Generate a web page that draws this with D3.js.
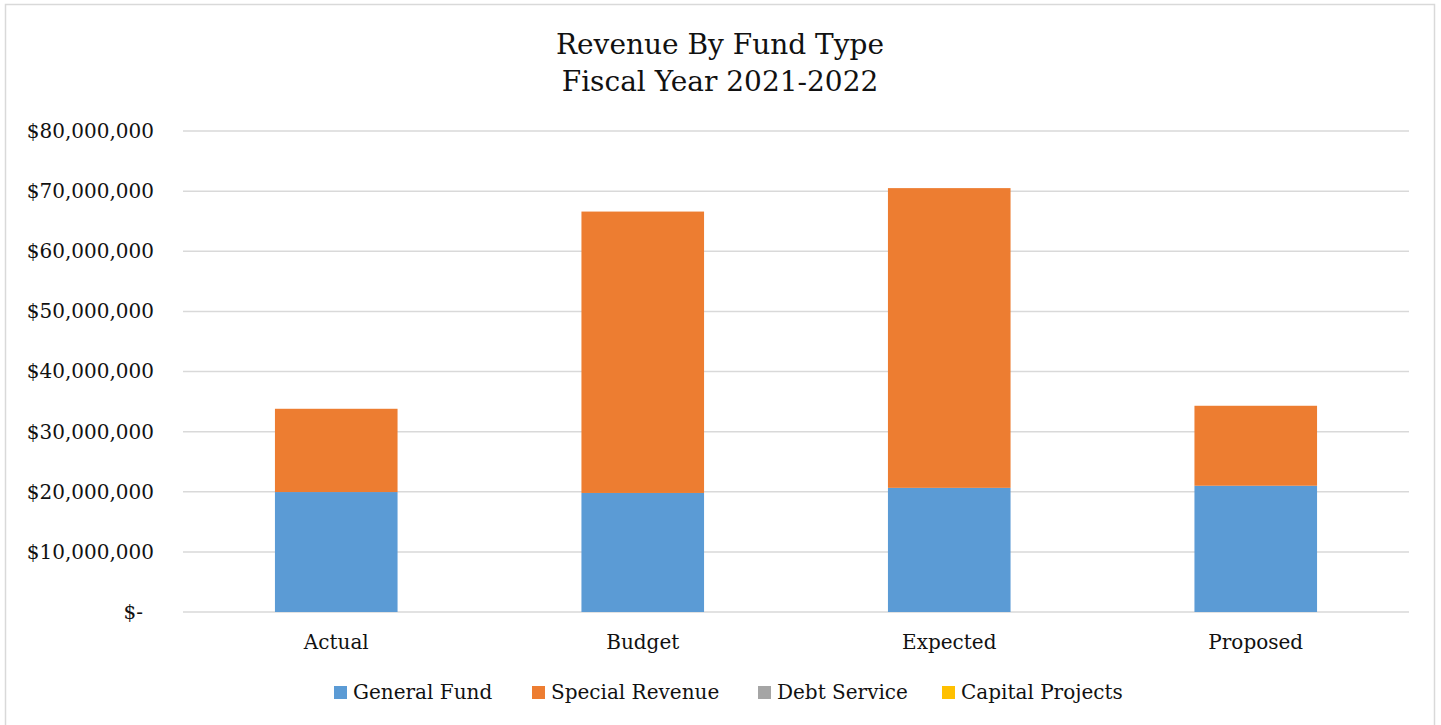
<!DOCTYPE html>
<html><head><meta charset="utf-8">
<script src="https://cdn.jsdelivr.net/npm/d3@7"></script>
<style>body{margin:0;background:#fff}svg{display:block}text{font-family:"DejaVu Serif",serif;fill:#111}</style>
</head><body><svg id="c" width="1441" height="725"></svg>
<script>
const categories = ["Actual","Budget","Expected","Proposed"];
const seriesNames = ["General Fund","Special Revenue","Debt Service","Capital Projects"];
const generalFund = [19950000, 19800000, 20650000, 21000000];
const specialRevenue = [13850000, 46800000, 49850000, 13300000];
const debtService = [0, 0, 0, 0];
const capitalProjects = [0, 0, 0, 0];
const tickValues = [0,10000000,20000000,30000000,40000000,50000000,60000000,70000000,80000000];
const colors = ["#5B9BD5","#ED7D31","#A5A5A5","#FFC000"];

const svg = d3.select("#c");
svg.append("rect").attr("x",5.5).attr("y",4.5).attr("width",1429).attr("height",730)
  .attr("fill","#fff").attr("stroke","#d9d9d9").attr("stroke-width",1.5);

const rows = categories.map((c,i)=>({cat:c,"General Fund":generalFund[i],"Special Revenue":specialRevenue[i],"Debt Service":debtService[i],"Capital Projects":capitalProjects[i]}));
const stack = d3.stack().keys(seriesNames)(rows);

const x = d3.scaleBand().domain(categories).range([183,1409]).padding(0);
const y = d3.scaleLinear().domain([0,80000000]).range([612,131]);
const barW = x.bandwidth()*0.4;

// gridlines
svg.append("g").selectAll("line").data(tickValues).join("line")
  .attr("x1",183).attr("x2",1409).attr("y1",d=>y(d)).attr("y2",d=>y(d))
  .attr("stroke","#d9d9d9").attr("stroke-width",1.5);

// y axis labels
const fmt = d => d===0 ? "$-" : "$" + d3.format(",")(d);
const yAxis = d3.axisLeft(y).tickValues(tickValues).tickFormat(fmt).tickSize(0).tickPadding(0);
const ga = svg.append("g").attr("transform","translate(154,0)").call(yAxis);
ga.select(".domain").remove();
ga.selectAll("text").style("font-family","DejaVu Serif").style("font-size","20px").attr("fill","#111")
  .attr("dx",d=>d===0?-11:0);

// bars
svg.append("g").selectAll("g").data(stack).join("g").attr("fill",(d,i)=>colors[i])
  .selectAll("rect").data(d=>d).join("rect")
  .attr("x",d=>x(d.data.cat)+(x.bandwidth()-barW)/2).attr("width",barW)
  .attr("y",d=>y(d[1])).attr("height",d=>y(d[0])-y(d[1]));

// x axis labels
const xAxis = d3.axisBottom(x).tickSize(0).tickPadding(0);
const gx = svg.append("g").attr("transform","translate(0,635)").call(xAxis);
gx.select(".domain").remove();
gx.selectAll("text").style("font-family","DejaVu Serif").style("font-size","20px").attr("fill","#111");

// title
svg.append("text").attr("x",720).attr("y",54).attr("text-anchor","middle").style("font-size","28px").text("Revenue By Fund Type");
svg.append("text").attr("x",720).attr("y",91).attr("text-anchor","middle").style("font-size","28px").text("Fiscal Year 2021-2022");

// legend
const legX = [334, 532, 758, 942];
const lg = svg.append("g").selectAll("g").data(seriesNames).join("g")
  .attr("transform",(d,i)=>`translate(${legX[i]},686)`);
lg.append("rect").attr("width",13).attr("height",13).attr("fill",(d,i)=>colors[i]);
lg.append("text").attr("x",19).attr("y",13).style("font-size","20px").text(d=>d);
</script></body></html>
